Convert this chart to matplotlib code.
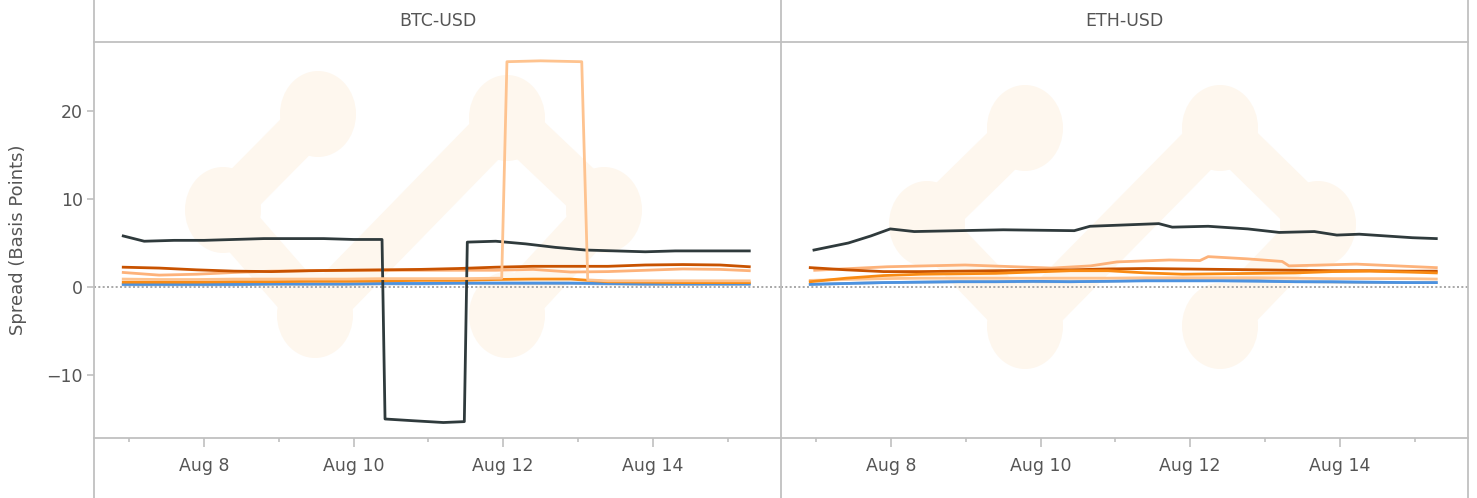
import matplotlib
matplotlib.use("Agg")
import matplotlib.pyplot as plt
import matplotlib.dates as mdates
from matplotlib.patches import Ellipse
from matplotlib.lines import Line2D
import numpy as np
import pandas as pd

# ---------------- data (day of August 2023, spread in bp) ----------------
panels = ["BTC-USD", "ETH-USD"]

t_grid = [6.92, 7.4, 7.9, 8.4, 8.9, 9.4, 9.9, 10.4, 10.9, 11.4, 11.9,
          12.4, 12.9, 13.4, 13.9, 14.4, 14.9, 15.29]

# BTC-USD
btc_black_t = [6.92, 7.2, 7.6, 8.0, 8.4, 8.8, 9.2, 9.6, 10.0, 10.38, 10.42,
               10.8, 11.2, 11.48, 11.52, 11.9, 12.3, 12.7, 13.1, 13.5, 13.9,
               14.3, 14.7, 15.29]
btc_black_v = [5.8, 5.2, 5.3, 5.3, 5.4, 5.5, 5.5, 5.5, 5.4, 5.4, -15.0,
               -15.2, -15.4, -15.3, 5.1, 5.2, 4.9, 4.5, 4.2, 4.1, 4.0,
               4.1, 4.1, 4.1]
btc_darkorange = [2.25, 2.15, 1.95, 1.8, 1.75, 1.85, 1.9, 1.95, 2.0, 2.1, 2.25,
                  2.35, 2.35, 2.35, 2.5, 2.55, 2.5, 2.3]
btc_lightorange = [1.65, 1.35, 1.45, 1.65, 1.8, 1.85, 1.9, 1.9, 1.9, 1.9, 1.9,
                   2.0, 1.7, 1.75, 1.9, 2.05, 2.0, 1.85]
btc_pale_t = [6.92, 7.4, 7.9, 8.4, 8.9, 9.4, 9.9, 10.4, 10.9, 11.4, 11.98,
              12.05, 12.5, 13.05, 13.13, 13.4, 13.9, 14.4, 14.9, 15.29]
btc_pale_v = [0.9, 0.85, 0.85, 0.9, 0.9, 0.9, 0.9, 0.95, 0.95, 0.95, 1.0,
              25.6, 25.7, 25.6, 0.8, 0.7, 0.7, 0.7, 0.7, 0.7]
btc_orange = [0.55, 0.55, 0.55, 0.6, 0.6, 0.65, 0.65, 0.7, 0.75, 0.75, 0.85,
              0.9, 0.9, 0.6, 0.55, 0.5, 0.5, 0.5]
btc_blue = [0.3, 0.3, 0.3, 0.3, 0.35, 0.35, 0.35, 0.4, 0.4, 0.45, 0.45,
            0.45, 0.45, 0.4, 0.35, 0.35, 0.35, 0.35]
btc_grayblue = [0.25, 0.25, 0.25, 0.25, 0.3, 0.3, 0.3, 0.35, 0.35, 0.4, 0.4,
                0.4, 0.4, 0.35, 0.3, 0.3, 0.3, 0.3]

# ETH-USD
eth_black_t = [6.97, 7.43, 7.73, 7.99, 8.31, 9.5, 10.45, 10.66, 11.58, 11.76,
               12.24, 12.77, 13.19, 13.66, 13.96, 14.26, 14.97, 15.29]
eth_black_v = [4.2, 5.0, 5.8, 6.6, 6.3, 6.5, 6.4, 6.9, 7.2, 6.8,
               6.9, 6.6, 6.2, 6.3, 5.9, 6.0, 5.6, 5.5]
eth_lightorange_t = [6.98, 7.95, 8.99, 10.15, 10.67, 11.02, 11.72, 12.13, 12.24,
                     12.76, 13.23, 13.32, 14.22, 15.29]
eth_lightorange_v = [1.9, 2.3, 2.5, 2.15, 2.4, 2.85, 3.07, 3.0, 3.45,
                     3.2, 2.9, 2.4, 2.6, 2.2]
eth_darkorange = [2.2, 1.95, 1.75, 1.75, 1.8, 1.85, 1.9, 1.95, 2.05, 2.1, 2.05,
                  2.0, 1.95, 1.9, 1.85, 1.85, 1.8, 1.8]
eth_orange = [0.6, 1.0, 1.3, 1.45, 1.5, 1.55, 1.7, 1.85, 1.85, 1.6, 1.45,
              1.5, 1.55, 1.6, 1.75, 1.8, 1.7, 1.6]
eth_pale = [0.75, 0.85, 0.95, 1.0, 1.0, 1.0, 1.0, 1.0, 1.0, 1.05, 1.05,
            1.05, 1.05, 1.0, 0.95, 0.95, 0.95, 0.9]
eth_blue = [0.3, 0.4, 0.5, 0.55, 0.6, 0.6, 0.65, 0.6, 0.65, 0.7, 0.7,
            0.7, 0.65, 0.6, 0.6, 0.55, 0.5, 0.5]
eth_grayblue = [0.3, 0.4, 0.5, 0.55, 0.6, 0.6, 0.6, 0.6, 0.65, 0.75, 0.85,
                0.9, 0.75, 0.6, 0.55, 0.5, 0.5, 0.5]

y_ticks = [-10, 0, 10, 20]

# ---------------- style ----------------
C_BLACK = "#2f3a3c"
C_DARKOR = "#c85200"
C_ORANGE = "#f98b14"
C_LIGHTOR = "#fdb27a"
C_PALE = "#fec38f"
C_BLUE = "#4c92e0"
C_GRAYBLUE = "#aab6c2"
C_LOGO = "#fef7ee"
C_BORDER = "#c0c0c0"
C_TEXT = "#555555"

W, H = 1477, 498
fig = plt.figure(figsize=(W / 100, H / 100), dpi=100)


def days(d):
    return pd.Timestamp("2023-08-01") + pd.to_timedelta(np.asarray(d) - 1.0, unit="D")


def add_axes_px(l, t, r, b):
    return fig.add_axes([l / W, 1 - b / H, (r - l) / W, (b - t) / H])


def px2in(x, y):
    return x / 100.0, (H - y) / 100.0


def draw_logo(ax, nodes):
    tr = fig.dpi_scale_trans
    TL, L, BL, TR, R, BR = nodes
    for a, b in [(TL, L), (L, BL), (BL, TR), (TR, R), (R, BR)]:
        xa, ya = px2in(*a)
        xb, yb = px2in(*b)
        ax.add_line(Line2D([xa, xb], [ya, yb], transform=tr, color=C_LOGO,
                           lw=33, solid_capstyle="round", zorder=0.1))
    for n in nodes:
        x, y = px2in(*n)
        ax.add_patch(Ellipse((x, y), 0.76, 0.86, transform=tr, color=C_LOGO,
                             lw=0, zorder=0.1))


ax1 = add_axes_px(94, 42, 781, 438)
ax2 = add_axes_px(781, 42, 1468, 438)

draw_logo(ax1, [(318, 114), (223, 210), (315, 315), (507, 118), (604, 210), (507, 315)])
draw_logo(ax2, [(1025, 128), (927, 224), (1025, 326), (1220, 128), (1318, 224), (1220, 326)])

lw = 2.0
tg = days(t_grid)

# BTC
ax1.plot(tg, btc_grayblue, color=C_GRAYBLUE, lw=lw, zorder=2)
ax1.plot(tg, btc_blue, color=C_BLUE, lw=lw, zorder=2.1)
ax1.plot(tg, btc_orange, color=C_ORANGE, lw=lw, zorder=2.3)
ax1.plot(tg, btc_lightorange, color=C_LIGHTOR, lw=lw, zorder=2.4)
ax1.plot(tg, btc_darkorange, color=C_DARKOR, lw=lw, zorder=2.5)
ax1.plot(days(btc_black_t), btc_black_v, color=C_BLACK, lw=lw, zorder=2.6)
ax1.plot(days(btc_pale_t), btc_pale_v, color=C_PALE, lw=lw, zorder=2.7)

# ETH
ax2.plot(tg, eth_grayblue, color=C_GRAYBLUE, lw=lw, zorder=2)
ax2.plot(tg, eth_blue, color=C_BLUE, lw=lw, zorder=2.1)
ax2.plot(tg, eth_pale, color=C_PALE, lw=lw, zorder=2.2)
ax2.plot(days(eth_lightorange_t), eth_lightorange_v, color=C_LIGHTOR, lw=lw, zorder=2.3)
ax2.plot(tg, eth_darkorange, color=C_DARKOR, lw=lw, zorder=2.4)
ax2.plot(tg, eth_orange, color=C_ORANGE, lw=lw, zorder=2.5)
ax2.plot(days(eth_black_t), eth_black_v, color=C_BLACK, lw=lw, zorder=2.6)

x0 = pd.Timestamp("2023-08-06") + pd.Timedelta(days=0.529)
x1 = pd.Timestamp("2023-08-15") + pd.Timedelta(days=0.714)
for ax in (ax1, ax2):
    ax.set_xlim(x0, x1)
    ax.set_ylim(-17.16, 27.84)
    ax.axhline(0, color="#9a9a9a", lw=1.2, ls=(0, (1.2, 1.4)), zorder=1.5)
    for s in ax.spines.values():
        s.set_visible(False)
    ax.patch.set_alpha(0)
    ax.xaxis.set_major_locator(mdates.DayLocator(bymonthday=[8, 10, 12, 14]))
    ax.xaxis.set_minor_locator(mdates.DayLocator(bymonthday=[7, 9, 11, 13, 15]))
    ax.xaxis.set_major_formatter(mdates.DateFormatter("%b %-d"))
    ax.tick_params(axis="x", which="major", length=6.5, width=1.2, color=C_BORDER,
                   labelsize=12.5, labelcolor=C_TEXT, pad=7)
    ax.tick_params(axis="x", which="minor", length=3, width=1.2, color=C_BORDER)

ax1.set_yticks(y_ticks)
ax1.tick_params(axis="y", length=5, width=1.2, color=C_BORDER, labelsize=12.5,
                labelcolor=C_TEXT, pad=3)
ax2.set_yticks(y_ticks)
ax2.tick_params(axis="y", left=False, labelleft=False)
ax1.set_ylabel("Spread (Basis Points)", fontsize=13, color=C_TEXT)
ax1.yaxis.set_label_coords(-0.097, 0.5)

# borders (facet frame)
def fig_line(xs, ys):
    fig.add_artist(Line2D([x / W for x in xs], [1 - y / H for y in ys],
                          transform=fig.transFigure, color=C_BORDER, lw=1.3))

for xv in (94, 781, 1468):
    fig_line([xv, xv], [0, H])
fig_line([94, 1468], [42, 42])
fig_line([94, 1468], [438, 438])

fig.text(437.5 / W, 1 - 21 / H, panels[0], ha="center", va="center",
         fontsize=12.5, color=C_TEXT)
fig.text(1124.5 / W, 1 - 21 / H, panels[1], ha="center", va="center",
         fontsize=12.5, color=C_TEXT)

fig.savefig("out.png", dpi=100)
